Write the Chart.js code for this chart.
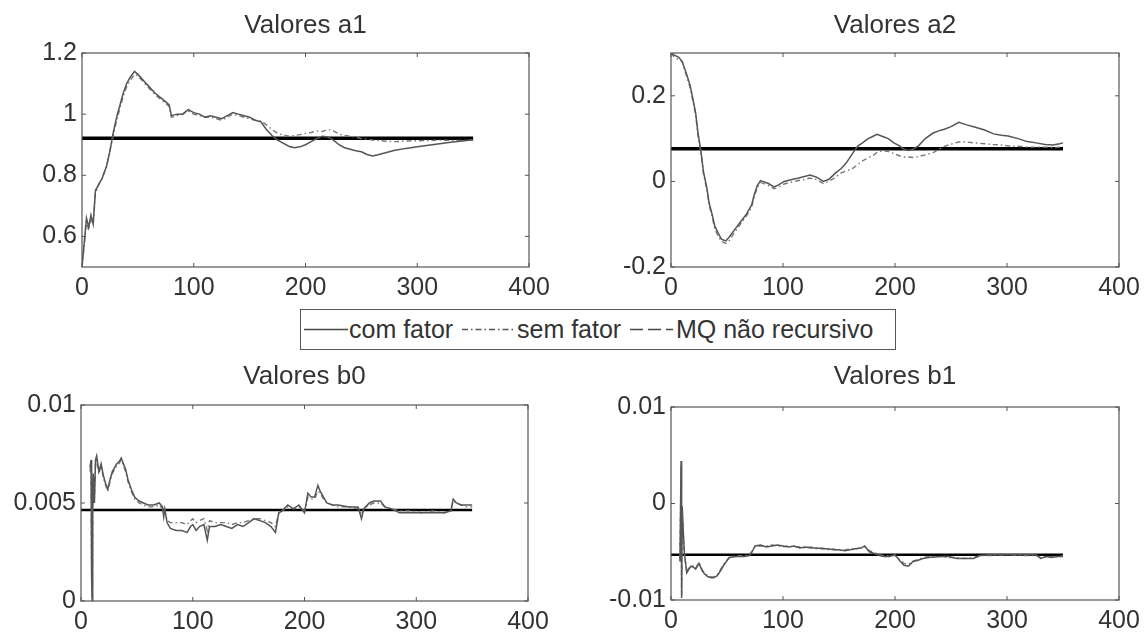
<!DOCTYPE html>
<html>
<head>
<meta charset="utf-8">
<script src="https://cdn.jsdelivr.net/npm/chart.js@4"></script>
<style>
  body { margin: 0; background: #fff; width: 1147px; height: 632px; position: relative; overflow: hidden; }
  .panel { position: absolute; }
  #legend { position: absolute; left: 300px; top: 309px; width: 596px; height: 41px; box-sizing: border-box;
            border: 1px solid #555; font-family: "Liberation Sans", Arial, sans-serif; font-size: 25px; color: #333; }
  #legend span, #legend svg { position: absolute; top: 0; }
  #legend span { line-height: 39px; white-space: nowrap; }
</style>
</head>
<body>
<div class="panel" style="left:0;top:0;width:560px;height:300px"><canvas id="cA1"></canvas></div>
<div class="panel" style="left:560px;top:0;width:587px;height:300px"><canvas id="cA2"></canvas></div>
<div class="panel" style="left:0;top:350px;width:560px;height:282px"><canvas id="cB0"></canvas></div>
<div class="panel" style="left:560px;top:350px;width:587px;height:282px"><canvas id="cB1"></canvas></div>

<div id="legend">
  <svg style="left:3px" width="44" height="39"><line x1="0" y1="19.5" x2="44" y2="19.5" stroke="#444" stroke-width="1.3"/></svg>
  <span style="left:48px">com fator</span>
  <svg style="left:161px" width="52" height="39"><line x1="0" y1="19.5" x2="52" y2="19.5" stroke="#555" stroke-width="1.3" stroke-dasharray="6,3,1.5,3"/></svg>
  <span style="left:216px">sem fator</span>
  <svg style="left:329px" width="43" height="39"><line x1="0" y1="19.5" x2="43" y2="19.5" stroke="#444" stroke-width="1.3" stroke-dasharray="13,5"/></svg>
  <span style="left:375px">MQ não recursivo</span>
</div>

<script>
const legendLabels = ['com fator', 'sem fator', 'MQ não recursivo'];
const titles = ['Valores a1', 'Valores a2', 'Valores b0', 'Valores b1'];
const xTicks = [0, 100, 200, 300, 400];
const xMQ = [0, 350];
const mqValues = [0.921, 0.076, 0.00464, -0.0053];

// a1
const xA1 = [0,2,4,6,8,10,12,15,18,22,25,28,31,34,37,40,43,47,50,55,60,65,70,75,78,80,
  85,90,95,100,105,110,115,120,125,130,135,140,145,150,155,160,
  165,170,175,180,185,190,195,200,205,210,215,220,225,230,235,240,245,250,255,260,265,270,275,280,
  290,300,310,320,330,340,350];
const comA1 = [0.50,0.58,0.66,0.63,0.67,0.64,0.75,
  0.77,0.79,0.83,0.88,0.94,0.99,1.03,1.07,1.10,1.12,1.14,1.13,
  1.11,1.09,1.07,1.055,1.04,1.03,0.995,
  1.0,1.0,1.015,1.005,1.0,0.99,0.995,0.99,0.985,0.995,1.005,1.0,0.995,0.99,0.98,0.975,
  0.95,0.93,0.915,0.905,0.895,0.89,0.893,0.9,0.91,0.92,0.928,0.925,0.915,0.9,0.89,0.885,0.88,0.877,0.868,0.863,0.867,0.872,0.877,0.882,
  0.888,0.893,0.898,0.903,0.908,0.912,0.916];
const semA1 = [0.50,0.57,0.65,0.62,0.66,0.64,0.74,
  0.77,0.79,0.83,0.88,0.93,0.98,1.02,1.06,1.09,1.11,1.13,1.125,
  1.105,1.085,1.065,1.05,1.035,1.025,0.99,
  0.995,1.0,1.01,1.0,0.995,0.99,0.99,0.985,0.98,0.99,1.0,0.995,0.99,0.985,0.98,0.978,
  0.965,0.95,0.937,0.932,0.928,0.93,0.933,0.937,0.94,0.945,0.943,0.95,0.945,0.935,0.93,0.928,0.925,0.92,0.918,0.915,0.914,0.912,0.911,0.91,
  0.912,0.913,0.914,0.915,0.914,0.914,0.915];
const yTicksA1 = [0.6, 0.8, 1, 1.2];

// a2
const xA2 = [0,3,7,10,14,17,19,22,24,27,29,32,34,37,39,42,45,49,52,
  57,62,67,72,74,77,80,82,87,92,96,101,107,114,120,124,130,136,141,
  147,152,157,162,167,171,176,180,184,189,194,199,204,208,212,216,221,227,234,
  239,244,250,257,264,271,280,288,295,301,310,318,326,334,341,347,350];
const comA2 = [0.30,0.295,0.29,0.28,0.25,0.225,0.20,0.16,0.115,0.065,0.022,-0.015,-0.05,-0.08,-0.104,-0.12,-0.135,-0.139,-0.13,
  -0.112,-0.095,-0.078,-0.055,-0.034,-0.01,0.002,0.0,-0.005,-0.013,-0.008,0.0,0.004,0.008,0.012,0.015,0.01,0.0,0.005,
  0.02,0.03,0.045,0.065,0.083,0.09,0.10,0.105,0.11,0.105,0.10,0.09,0.083,0.075,0.072,0.075,0.083,0.10,0.113,
  0.118,0.122,0.128,0.138,0.132,0.127,0.12,0.111,0.108,0.106,0.10,0.093,0.09,0.086,0.085,0.088,0.09];
const semA2 = [0.30,0.29,0.285,0.28,0.245,0.22,0.195,0.155,0.11,0.06,0.018,-0.02,-0.055,-0.085,-0.11,-0.128,-0.14,-0.145,-0.138,
  -0.118,-0.1,-0.082,-0.06,-0.038,-0.014,-0.003,-0.004,-0.01,-0.017,-0.013,-0.006,-0.002,0.002,0.005,0.008,0.004,-0.005,0.0,
  0.01,0.02,0.025,0.03,0.04,0.048,0.055,0.06,0.068,0.072,0.07,0.065,0.06,0.057,0.057,0.056,0.058,0.062,0.067,
  0.075,0.082,0.087,0.092,0.092,0.09,0.088,0.086,0.085,0.083,0.082,0.08,0.08,0.08,0.079,0.08,0.08];
const yTicksA2 = [-0.2, 0, 0.2];

// b0
const xB0 = [8,9,9.5,10,10.5,11,12,13,14,
  16,18,20,22,24,26,28,30,32,34,36,38,40,42,
  45,48,52,56,60,65,70,73,74,75,77,80,
  85,90,95,98,100,103,106,110,113,115,120,
  125,130,135,140,145,150,155,160,165,170,174,177,180,
  185,190,195,200,203,206,209,212,214,216,220,225,230,
  240,248,251,253,258,262,268,272,278,285,
  295,305,315,325,331,333,336,340,345,350];
const comB0 = [0.0068,0.0072,0.0012,0.0,0.0045,0.0065,0.0050,0.0072,0.0074,
  0.0066,0.0070,0.0064,0.0060,0.0057,0.0062,0.0066,0.0068,0.0070,0.0071,0.0073,0.0070,0.0067,0.0062,
  0.0057,0.0053,0.0051,0.0050,0.0049,0.0049,0.0050,0.0048,0.0043,0.0047,0.0040,0.0037,
  0.0036,0.0036,0.0035,0.0038,0.0039,0.0036,0.0038,0.0039,0.0031,0.0038,0.0038,
  0.0039,0.0038,0.0037,0.0039,0.0038,0.0040,0.0042,0.0041,0.0040,0.0038,0.0035,0.0045,0.0046,
  0.0049,0.0047,0.0049,0.0045,0.0055,0.0053,0.0053,0.0059,0.0056,0.0054,0.0050,0.0049,0.0049,
  0.0048,0.0048,0.0042,0.0047,0.0050,0.0051,0.0051,0.0048,0.0047,0.0045,
  0.0045,0.0045,0.0045,0.0045,0.0046,0.0052,0.0050,0.0049,0.0049,0.0049];
const semB0 = [0.0066,0.0070,0.0015,0.0002,0.0048,0.0063,0.0052,0.0070,0.0072,
  0.0065,0.0069,0.0063,0.0059,0.0056,0.0061,0.0065,0.0067,0.0069,0.0070,0.0072,0.0069,0.0066,0.0061,
  0.0056,0.0052,0.0050,0.0049,0.0048,0.0048,0.0049,0.0047,0.0044,0.0046,0.0041,0.0040,
  0.0040,0.0040,0.0039,0.0041,0.0042,0.0040,0.0041,0.0042,0.0036,0.0041,0.0040,
  0.0040,0.0040,0.0039,0.0040,0.0040,0.0041,0.0042,0.0042,0.0041,0.0040,0.0038,0.0045,0.0046,
  0.0048,0.0047,0.0048,0.0046,0.0053,0.0052,0.0052,0.0056,0.0055,0.0053,0.0050,0.0049,0.0048,
  0.0048,0.0047,0.0044,0.0047,0.0049,0.0050,0.0050,0.0048,0.0047,0.0046,
  0.0046,0.0045,0.0046,0.0045,0.0046,0.0051,0.0050,0.0049,0.0048,0.0048];
const yTicksB0 = [0, 0.005, 0.01];

// b1
const xB1 = [8,9,9.5,10,11,12,14,
  16,18,20,22,25,28,30,33,36,38,41,43,47,
  52,58,65,70,72,75,80,
  85,90,95,100,105,110,115,120,125,130,135,140,145,150,155,160,165,170,
  173,177,182,186,190,195,200,204,208,212,216,220,225,230,
  240,248,255,262,270,276,285,300,315,326,330,335,340,345,350];
const comB1 = [-0.0060,0.0044,-0.0098,-0.0003,-0.0030,-0.0051,-0.0072,
  -0.0068,-0.0065,-0.0066,-0.0068,-0.0062,-0.0070,-0.0073,-0.0076,-0.0077,-0.0077,-0.0075,-0.0072,-0.0064,
  -0.0056,-0.0055,-0.0055,-0.0054,-0.0051,-0.0044,-0.0043,
  -0.0045,-0.0044,-0.0043,-0.0044,-0.0045,-0.0044,-0.0046,-0.0045,-0.0046,-0.0046,-0.0047,-0.0047,-0.0048,-0.0048,-0.0049,-0.0048,-0.0047,-0.0046,
  -0.0044,-0.0050,-0.0052,-0.0054,-0.0055,-0.0055,-0.0053,-0.0059,-0.0064,-0.0065,-0.0060,-0.0059,-0.0057,-0.0056,
  -0.0055,-0.0055,-0.0057,-0.0057,-0.0057,-0.0054,-0.0053,-0.0053,-0.0053,-0.0053,-0.0057,-0.0055,-0.0056,-0.0055,-0.0055];
const semB1 = [-0.0058,0.0040,-0.0095,-0.0005,-0.0032,-0.0053,-0.0070,
  -0.0067,-0.0064,-0.0065,-0.0067,-0.0061,-0.0069,-0.0072,-0.0075,-0.0076,-0.0076,-0.0074,-0.0071,-0.0063,
  -0.0056,-0.0054,-0.0054,-0.0053,-0.0050,-0.0045,-0.0044,
  -0.0044,-0.0043,-0.0044,-0.0045,-0.0044,-0.0045,-0.0045,-0.0046,-0.0045,-0.0047,-0.0046,-0.0048,-0.0047,-0.0049,-0.0048,-0.0047,-0.0047,-0.0046,
  -0.0045,-0.0049,-0.0051,-0.0053,-0.0054,-0.0054,-0.0054,-0.0058,-0.0062,-0.0063,-0.0060,-0.0058,-0.0056,-0.0055,
  -0.0055,-0.0056,-0.0056,-0.0057,-0.0056,-0.0054,-0.0054,-0.0053,-0.0054,-0.0054,-0.0056,-0.0055,-0.0055,-0.0055,-0.0054];
const yTicksB1 = [-0.01, 0, 0.01];

Chart.defaults.font.family = '"Liberation Sans", Arial, sans-serif';
Chart.defaults.color = '#333';

// box around the plot area with small inward ticks, like the original figure
const framePlugin = {
  id: 'frame',
  afterDatasetsDraw(chart) {
    const { ctx, chartArea: a, scales } = chart;
    ctx.save();
    ctx.strokeStyle = '#555';
    ctx.lineWidth = 1.2;
    ctx.strokeRect(a.left, a.top, a.right - a.left, a.bottom - a.top);
    ctx.lineWidth = 1;
    scales.x.ticks.forEach(t => {
      const px = scales.x.getPixelForValue(t.value);
      ctx.beginPath();
      ctx.moveTo(px, a.bottom); ctx.lineTo(px, a.bottom - 4);
      ctx.moveTo(px, a.top); ctx.lineTo(px, a.top + 4);
      ctx.stroke();
    });
    scales.y.ticks.forEach(t => {
      const py = scales.y.getPixelForValue(t.value);
      ctx.beginPath();
      ctx.moveTo(a.left, py); ctx.lineTo(a.left + 4, py);
      ctx.moveTo(a.right, py); ctx.lineTo(a.right - 4, py);
      ctx.stroke();
    });
    ctx.restore();
  }
};

function pts(xs, ys) { return xs.map((x, i) => ({ x: x, y: ys[i] })); }

function makePanel(id, p) {
  new Chart(document.getElementById(id), {
    type: 'line',
    data: {
      datasets: [
        { label: legendLabels[0], data: pts(p.xs, p.com), borderColor: '#555', borderWidth: 1.5 },
        { label: legendLabels[1], data: pts(p.xs, p.sem), borderColor: '#777', borderWidth: 1.4, borderDash: [5, 3, 1.5, 3] },
        { label: legendLabels[2], data: pts(xMQ, [p.mq, p.mq]), borderColor: '#000', borderWidth: p.mqWidth }
      ]
    },
    options: {
      responsive: true,
      maintainAspectRatio: false,
      animation: false,
      elements: { point: { radius: 0 }, line: { tension: 0 } },
      layout: { padding: { left: 0, right: p.padRight, top: 0, bottom: 0 } },
      plugins: {
        legend: { display: false },
        tooltip: { enabled: false },
        title: {
          display: true, text: p.title, fullSize: false, color: '#333',
          font: { size: 26, weight: 'normal' },
          padding: { top: p.titleTop, bottom: p.titleBottom }
        }
      },
      scales: {
        x: {
          type: 'linear', min: 0, max: 400,
          grid: { display: false, drawTicks: false },
          border: { display: false },
          afterBuildTicks: s => { s.ticks = xTicks.map(v => ({ value: v })); },
          afterFit: s => { s.height = p.xHeight; },
          ticks: { font: { size: 25 }, padding: 6, maxRotation: 0, color: '#333' }
        },
        y: {
          type: 'linear', min: p.yMin, max: p.yMax,
          grid: { display: false, drawTicks: false },
          border: { display: false },
          afterBuildTicks: s => { s.ticks = p.yTicks.map(v => ({ value: v })); },
          afterFit: s => { s.width = p.yWidth; },
          ticks: { font: { size: 25 }, padding: 5, color: '#333', callback: v => String(v) }
        }
      }
    },
    plugins: [framePlugin]
  });
}

makePanel('cA1', { xs: xA1, com: comA1, sem: semA1, mq: mqValues[0], mqWidth: 3.5, title: titles[0],
  yMin: 0.5, yMax: 1.2, yTicks: yTicksA1, yWidth: 82, padRight: 31, xHeight: 33, titleTop: 10, titleBottom: 11.8 });
makePanel('cA2', { xs: xA2, com: comA2, sem: semA2, mq: mqValues[1], mqWidth: 3.5, title: titles[1],
  yMin: -0.2, yMax: 0.3, yTicks: yTicksA2, yWidth: 111, padRight: 28, xHeight: 33, titleTop: 10, titleBottom: 11.8 });
makePanel('cB0', { xs: xB0, com: comB0, sem: semB0, mq: mqValues[2], mqWidth: 2.5, title: titles[2],
  yMin: 0, yMax: 0.01, yTicks: yTicksB0, yWidth: 81, padRight: 32, xHeight: 31, titleTop: 11, titleBottom: 12.8 });
makePanel('cB1', { xs: xB1, com: comB1, sem: semB1, mq: mqValues[3], mqWidth: 2.5, title: titles[3],
  yMin: -0.01, yMax: 0.01, yTicks: yTicksB1, yWidth: 111, padRight: 28, xHeight: 32, titleTop: 11, titleBottom: 14.8 });
</script>
</body>
</html>
